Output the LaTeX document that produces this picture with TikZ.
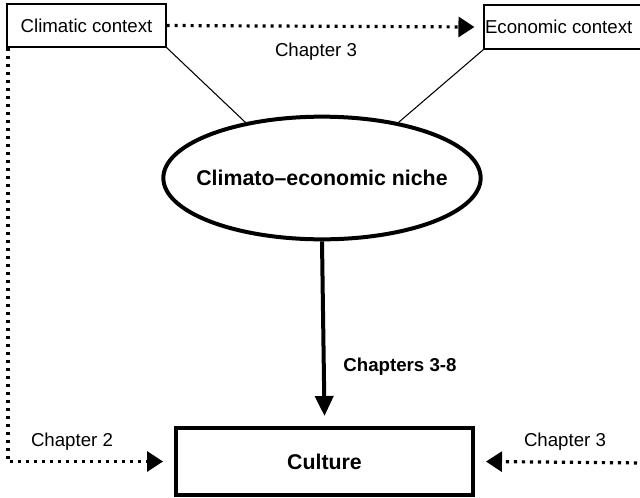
\documentclass[tikz,border=0pt]{standalone}
\usepackage{fontspec}
\setmainfont{Liberation Sans}
\usetikzlibrary{arrows.meta}
\usetikzlibrary{shapes.geometric}

\begin{document}
\begin{tikzpicture}[x=0.75pt,y=-0.75pt,
  context/.style={draw,line width=0.8pt,inner sep=0pt,font=\fontsize{14}{16}\selectfont},
  chapter/.style={line width=2.4pt,dash pattern=on 2.4pt off 3.6pt,-{Triangle[length=12pt,width=15pt]}},
  chaplabel/.style={font=\fontsize{14}{16}\selectfont}]
  \useasboundingbox (0,0) rectangle (640,497);
  %top
  \node[context,minimum width=119.25pt,minimum height=32.25pt] (clim) at (86.5,25.5) {Climatic context};
  \node[context,minimum width=120pt,minimum height=33pt] (econ) at (564,27) {\hspace*{-8pt}Economic context};
  \draw[chapter] (clim.east) -- ([xshift=-6.75pt]econ.west);
  \node[chaplabel] (ch3top) at (316,52) {Chapter 3};
  %niche
  \node[ellipse,draw,line width=3pt,minimum width=238pt,minimum height=92pt,inner xsep=-14pt,inner ysep=0pt,font=\bfseries\fontsize{16}{18}\selectfont] (niche) at (322,178) {Climato--economic niche};
  \draw[line width=0.8pt] (clim.south east) -- (niche.144);
  \draw[line width=0.8pt] (econ.south west) -- (niche.36);
  %bottom
  \node[draw,line width=3pt,minimum width=222.75pt,minimum height=50.25pt,inner sep=0pt,font=\bfseries\fontsize{16}{18}\selectfont] (cult) at (324.5,461.5) {Culture};
  \draw[line width=3pt,-{Triangle[length=15pt,width=13.5pt]}] (niche.south) -- ([yshift=7.5pt]cult.north);
  \node[font=\bfseries\fontsize{14}{16}\selectfont] (ch38) at (400,367) {Chapters 3-8};
  \draw[chapter] ([xshift=1.2pt]clim.south west) |- ([xshift=-8.25pt]cult.west);
  \node[chaplabel] (ch2) at (72,442) {Chapter 2};
  \coordinate (edge) at (645,463);
  \draw[chapter] (edge) -- ([xshift=8.25pt]cult.east);
  \node[chaplabel] (ch3right) at (565,442) {Chapter 3};
\end{tikzpicture}
\end{document}
